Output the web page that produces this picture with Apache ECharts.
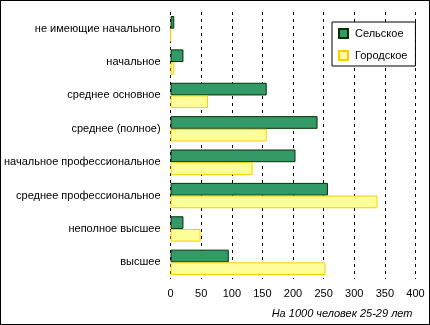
<!DOCTYPE html>
<html><head><meta charset="utf-8">
<script src="https://cdn.jsdelivr.net/npm/echarts@6/dist/echarts.min.js"></script>
<style>
html,body{margin:0;padding:0;background:#fff;}
#c{width:430px;height:325px;box-sizing:border-box;border:1px solid #000;}
</style></head>
<body><div id="c"></div>
<script>
var categories = ['не имеющие начального','начальное','среднее основное','среднее (полное)','начальное профессиональное','среднее профессиональное','неполное высшее','высшее'];
var rural = [6, 21, 157, 240, 204, 257, 21, 95];
var urban = [0, 6, 61, 157, 134, 338, 49, 253];
var xTicks = [0, 50, 100, 150, 200, 250, 300, 350, 400];
var seriesNames = ['Сельское', 'Городское'];
var axisTitle = 'На 1000 человек 25-29 лет';

var chart = echarts.init(document.getElementById('c'), null, {renderer:'canvas'});
var font = 'Liberation Sans, Arial, sans-serif';
chart.setOption({
  animation:false,
  textStyle:{fontFamily:font},
  grid:{left:169.5, top:11, width:245, height:267, containLabel:false},
  legend:{
    orient:'vertical', left:331, top:21, width:84,
    padding:[6,8,5,6], itemGap:11, itemWidth:9, itemHeight:9, icon:'rect',
    backgroundColor:'#fff', borderColor:'#000', borderWidth:1,
    textStyle:{fontSize:11, color:'#000', fontFamily:font, padding:[0,0,0,2]},
    data: seriesNames
  },
  xAxis:{
    type:'value', min:0, max:400, interval:50,
    axisLine:{show:false}, axisTick:{show:false},
    splitLine:{show:true, lineStyle:{color:'#000', type:[3,4], width:1}},
    axisLabel:{color:'#000', fontSize:11, margin:9, fontFamily:font,
      formatter:function(v){return xTicks.indexOf(v)>=0?String(v):'';}},
    name: axisTitle, nameLocation:'end', nameGap:0,
    nameTextStyle:{fontStyle:'italic', fontSize:11, color:'#000', align:'right', verticalAlign:'top', padding:[29,3,0,0], fontFamily:font}
  },
  yAxis:{
    type:'category', inverse:true, data:categories,
    axisLine:{show:false}, axisTick:{show:false},
    axisLabel:{color:'#000', fontSize:11, margin:10, fontFamily:font}
  },
  series:[
    {name:seriesNames[0], type:'bar', data:rural, barGap:'0%', barCategoryGap:'24%',
     itemStyle:{color:'#339966', borderColor:'#003300', borderWidth:1}},
    {name:seriesNames[1], type:'bar', data:urban, barGap:'0%', barCategoryGap:'24%',
     itemStyle:{color:'#FFFF99', borderColor:'#FFCC00', borderWidth:1}}
  ]
});
</script></body></html>
